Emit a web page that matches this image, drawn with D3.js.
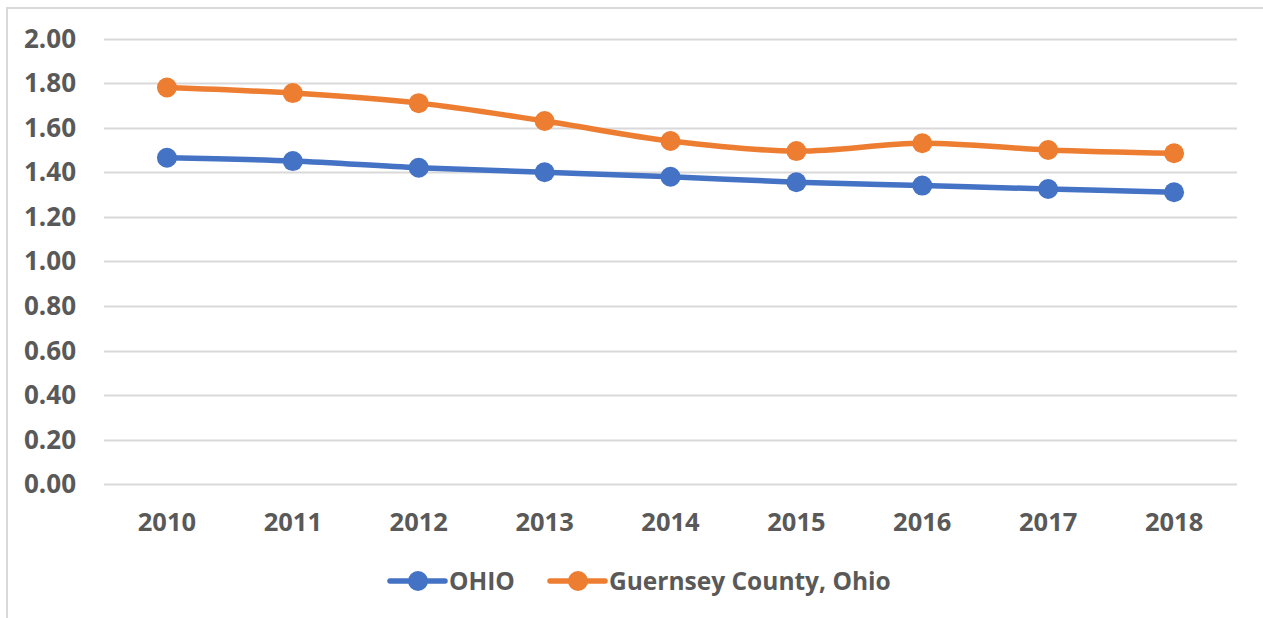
<!DOCTYPE html>
<html>
<head>
<meta charset="utf-8">
<script src="https://cdn.jsdelivr.net/npm/d3@7"></script>
<style>
  body { margin: 0; background: #fff; }
  text { font-family: "Open Sans", sans-serif; font-weight: bold; fill: #595959; }
</style>
</head>
<body>
<svg id="chart"></svg>
<script>
var width = 1263, height = 618

var years = ["2010", "2011", "2012", "2013", "2014", "2015", "2016", "2017", "2018"]
var ohio = [1.465, 1.45, 1.42, 1.40, 1.38, 1.355, 1.34, 1.325, 1.31]
var guernsey = [1.78, 1.755, 1.71, 1.63, 1.54, 1.495, 1.53, 1.50, 1.485]
var yTicks = [0, 0.2, 0.4, 0.6, 0.8, 1.0, 1.2, 1.4, 1.6, 1.8, 2.0]
var seriesNames = ["OHIO", "Guernsey County, Ohio"]
var colors = ["#4472C4", "#ED7D31"]

var svg = d3.select("#chart")
    .attr("width", width)
    .attr("height", height)

// chart area border
svg.append("path")
    .attr("d", "M7,618 V8 H1263")
    .attr("fill", "none")
    .attr("stroke", "#d9d9d9")
    .attr("stroke-width", 2)

var x = d3.scalePoint()
    .domain(years)
    .range([104, 1237])
    .padding(0.5)

var y = d3.scaleLinear()
    .domain([0, 2])
    .range([484.3, 38.5])

// gridlines
svg.append("g")
    .selectAll("line")
    .data(yTicks)
    .enter()
    .append("line")
        .attr("x1", 104)
        .attr("x2", 1237)
        .attr("y1", function(d) { return Math.round(y(d)) + 0.5 })
        .attr("y2", function(d) { return Math.round(y(d)) + 0.5 })
        .attr("stroke", "#d9d9d9")
        .attr("stroke-width", 2)

// y labels
svg.append("g")
    .selectAll("text")
    .data(yTicks)
    .enter()
    .append("text")
        .attr("x", 76)
        .attr("y", function(d) { return y(d) + 9 })
        .attr("text-anchor", "end")
        .style("font-size", "26px")
        .text(function(d) { return d3.format(".2f")(d) })

// x labels
svg.append("g")
    .selectAll("text")
    .data(years)
    .enter()
    .append("text")
        .attr("x", function(d) { return x(d) })
        .attr("y", 531)
        .attr("text-anchor", "middle")
        .style("font-size", "25.5px")
        .text(function(d) { return d })

var line = d3.line()
    .x(function(d, i) { return x(years[i]) })
    .y(function(d) { return y(d) })
    .curve(d3.curveCatmullRom.alpha(0.5))

var series = [ohio, guernsey]
series.forEach(function(s, k) {
    svg.append("path")
        .datum(s)
        .attr("d", line)
        .attr("fill", "none")
        .attr("stroke", colors[k])
        .attr("stroke-width", 5.5)
        .attr("stroke-linecap", "round")
    svg.append("g")
        .selectAll("circle")
        .data(s)
        .enter()
        .append("circle")
            .attr("cx", function(d, i) { return x(years[i]) })
            .attr("cy", function(d) { return y(d) })
            .attr("r", 10)
            .attr("fill", colors[k])
})

// legend
var legendX = [390, 550]
var lg = svg.append("g")
seriesNames.forEach(function(name, k) {
    var g = lg.append("g").attr("transform", "translate(" + legendX[k] + ",581)")
    g.append("line")
        .attr("x1", 0).attr("x2", 55)
        .attr("stroke", colors[k])
        .attr("stroke-width", 5.5)
        .attr("stroke-linecap", "round")
    g.append("circle")
        .attr("cx", 28).attr("r", 10)
        .attr("fill", colors[k])
    g.append("text")
        .attr("x", 59)
        .attr("y", 9)
        .style("font-size", "24.5px")
        .text(name)
})
</script>
</body>
</html>
